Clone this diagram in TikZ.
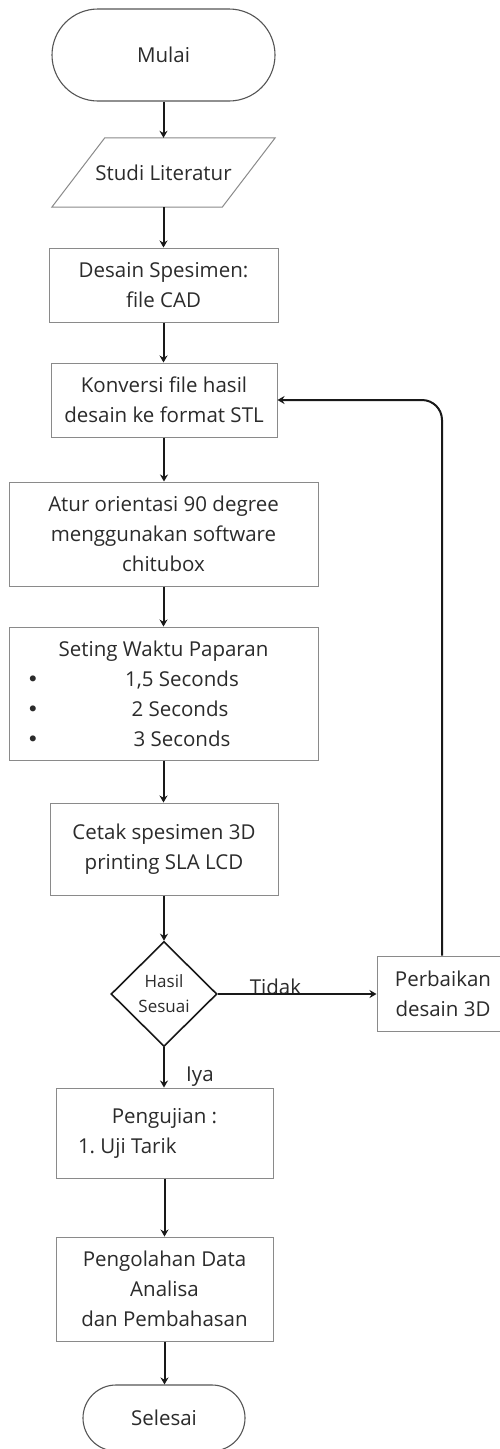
\documentclass[tikz,border=0pt]{standalone}
\usepackage{fontspec}
\setmainfont{Open Sans}
\newfontfamily\bulletfont{DejaVu Sans}
\usetikzlibrary{shapes.geometric,arrows.meta,calc}
\definecolor{txt}{HTML}{2B2B2B}
\definecolor{boxgray}{HTML}{8A8A8A}
\definecolor{termgray}{HTML}{555555}
\newcommand{\bulletline}[2]{\makebox[289pt][c]{\hspace{#1}#2}\llap{\makebox[289pt][l]{\hspace{8pt}{\bulletfont •}}}}
\begin{document}
\begin{tikzpicture}[x=1pt,y=-1pt,
  every node/.style={text=txt, font=\fontsize{20.5}{30}\selectfont},
  box/.style={draw=boxgray, line width=1pt, rectangle, align=center, inner sep=0pt},
  term/.style={draw=termgray, line width=1.1pt, rectangle, align=center, inner sep=0pt},
  decis/.style={diamond, draw=black!90, line width=1.6pt, inner sep=0pt, aspect=1,
    align=center, font=\fontsize{17}{25}\selectfont},
  arrow/.style={draw=black!90, line width=2pt, -{Stealth[length=7pt,width=8pt]}},
  lbl/.style={inner sep=0pt}]
\clip (0,0) rectangle (500,1449);
\fill[white] (0,0) rectangle (500,1449);

% nodes
\node[term, minimum width=223pt, minimum height=92pt, rounded corners=46pt] (mulai) at (163.5,55) {Mulai};
\node[inner sep=0pt, minimum width=223pt, minimum height=69pt] (studi) at (163.5,172.5) {Studi Literatur};
\draw[draw=boxgray, line width=1pt] ($(studi.north west)+(53,0)$) -- (studi.north east)
   -- ($(studi.south east)-(53,0)$) -- (studi.south west) -- cycle;
\node[box, minimum width=229pt, minimum height=74pt] (desain) at (163.5,285) {Desain Spesimen:\\file CAD};
\node[box, minimum width=226pt, minimum height=74pt] (konv) at (164,400) {Konversi file hasil\\desain ke format STL};
\node[box, minimum width=309pt, minimum height=104pt] (atur) at (163.5,534) {Atur orientasi 90 degree\\menggunakan software\\chitubox};
\node[box, minimum width=309pt, minimum height=133pt] (set) at (163.5,693.5)
  {Seting Waktu Paparan\\
   \bulletline{37pt}{1,5 Seconds}\\
   \bulletline{33pt}{2 Seconds}\\
   \bulletline{37pt}{3 Seconds}};
\node[box, minimum width=228pt, minimum height=92pt] (cetak) at (164,849) {Cetak spesimen 3D\\printing SLA LCD};
\node[decis, minimum width=106pt, minimum height=105pt] (dec) at (164,994) {Hasil\\Sesuai};
\node[box, minimum width=132pt, minimum height=75pt] (perb) at (443,993.5) {Perbaikan\\desain 3D};
\node[box, minimum width=217pt, minimum height=90pt] (uji) at (164.5,1133)
  {Pengujian :\\\makebox[197pt][l]{\hspace{12pt}1.\ Uji Tarik}};
\node[box, minimum width=217pt, minimum height=104pt] (olah) at (164.5,1289) {Pengolahan Data\\Analisa\\dan Pembahasan};
\node[term, minimum width=162pt, minimum height=66pt, rounded corners=33pt] (sel) at (164,1418) {Selesai};

% labels
\node[lbl, anchor=base] (tidak) at (275.5,994) {Tidak};
\node[lbl, anchor=base west] (iya) at (186,1081) {Iya};

% connectors
\draw[arrow] (mulai.south) -- (mulai.south |- studi.north);
\draw[arrow] (studi.south) -- (studi.south |- desain.north);
\draw[arrow] (desain.south) -- (desain.south |- konv.north);
\draw[arrow] (konv.south) -- (konv.south |- atur.north);
\draw[arrow] (atur.south) -- (atur.south |- set.north);
\draw[arrow] (set.south) -- (set.south |- cetak.north);
\draw[arrow] (cetak.south) -- (cetak.south |- dec.north);
\draw[arrow] (dec.east) -- (dec.east -| perb.west);
\draw[arrow] (dec.south) -- (dec.south |- uji.north);
\draw[arrow] (uji.south) -- (uji.south |- olah.north);
\draw[arrow] (olah.south) -- (olah.south |- sel.north);
\draw[arrow, rounded corners=20pt] ([xshift=-1pt]perb.north) -- ([xshift=-1pt]perb.north |- konv.east) -- (konv.east);
\end{tikzpicture}
\end{document}
